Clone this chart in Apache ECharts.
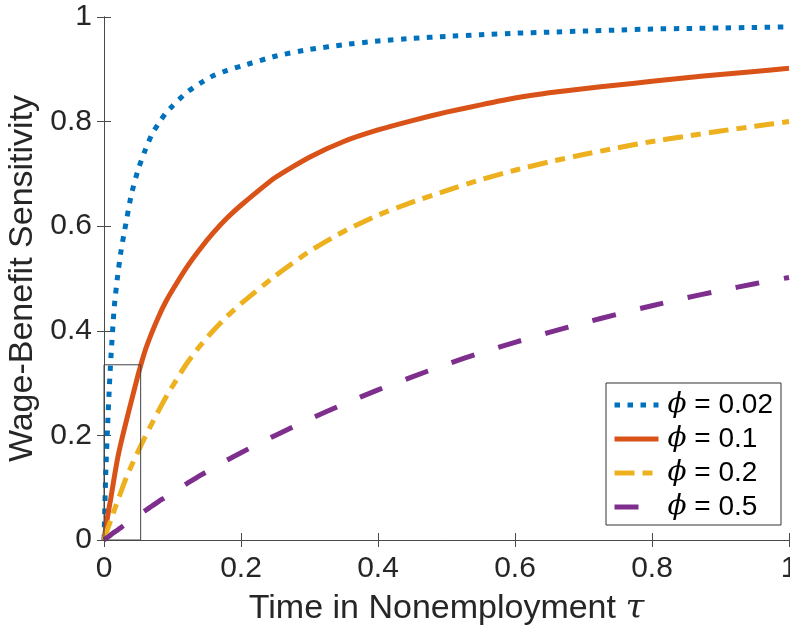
<!DOCTYPE html>
<html>
<head>
<meta charset="utf-8">
<script src="https://cdn.jsdelivr.net/npm/echarts@6/dist/echarts.min.js"></script>
<style>
html,body{margin:0;padding:0;background:#fff;}
#c{width:790px;height:631px;}
</style>
</head>
<body>
<div id="c"></div>
<script>
// Time in nonemployment (x values)
const tau = [0, 0.0025, 0.005, 0.0075, 0.01, 0.015, 0.02, 0.025, 0.03, 0.04, 0.05, 0.06, 0.07, 0.08, 0.09, 0.1, 0.12, 0.14, 0.16, 0.18, 0.2, 0.25, 0.3, 0.35, 0.4, 0.45, 0.5, 0.55, 0.6, 0.65, 0.7, 0.75, 0.8, 0.85, 0.9, 0.95, 1.0];
// Wage-benefit sensitivity for each phi
const phi002 = [0, 0.125, 0.21, 0.284, 0.347, 0.446, 0.506, 0.554, 0.591, 0.661, 0.709, 0.745, 0.776, 0.797, 0.816, 0.83, 0.855, 0.873, 0.888, 0.898, 0.906, 0.925, 0.938, 0.947, 0.954, 0.959, 0.963, 0.966, 0.969, 0.971, 0.973, 0.975, 0.977, 0.978, 0.979, 0.980, 0.981];
const phi01  = [0, 0.022, 0.043, 0.062, 0.08, 0.12, 0.157, 0.187, 0.214, 0.266, 0.317, 0.362, 0.397, 0.428, 0.455, 0.478, 0.52, 0.556, 0.588, 0.616, 0.64, 0.693, 0.732, 0.762, 0.784, 0.802, 0.818, 0.832, 0.845, 0.855, 0.863, 0.87, 0.877, 0.884, 0.89, 0.896, 0.902];
const phi02  = [0, 0.01, 0.02, 0.029, 0.038, 0.057, 0.075, 0.093, 0.111, 0.142, 0.17, 0.197, 0.223, 0.248, 0.272, 0.294, 0.336, 0.371, 0.401, 0.428, 0.452, 0.505, 0.552, 0.59, 0.621, 0.646, 0.668, 0.689, 0.707, 0.723, 0.737, 0.75, 0.762, 0.772, 0.782, 0.791, 0.8];
const phi05  = [0, 0.0025, 0.005, 0.007, 0.01, 0.015, 0.019, 0.024, 0.029, 0.038, 0.047, 0.056, 0.065, 0.074, 0.082, 0.091, 0.107, 0.123, 0.138, 0.153, 0.167, 0.2, 0.231, 0.26, 0.287, 0.312, 0.336, 0.358, 0.378, 0.397, 0.415, 0.432, 0.448, 0.463, 0.477, 0.49, 0.502];
const seriesNames = ['ϕ = 0.02', 'ϕ = 0.1', 'ϕ = 0.2', 'ϕ = 0.5'];
// zoom box outline corners (tau, sensitivity)
const boxTau = [0, 0.0535, 0.0535, 0, 0];
const boxVal = [0, 0, 0.335, 0.335, 0];

const pair = (xs, ys) => xs.map((x, i) => [x, ys[i]]);
const FONT = "'Liberation Sans', Arial, Helvetica, sans-serif";
const AX = '#4a4a4a';
const TXT = '#262626';
const fmt = v => (v === 0 || v === 1) ? String(v) : String(+v.toFixed(1));

const chart = echarts.init(document.getElementById('c'));
const baseAxis = {type: 'value', min: 0, max: 1, interval: 0.2,
  axisLine: {show: true, lineStyle: {color: AX, width: 1}},
  axisTick: {show: true, inside: true, length: 7, lineStyle: {color: AX}},
  splitLine: {show: false}};
const lineSeries = (name, ys, color, type) => ({
  name, type: 'line', data: pair(tau, ys), symbol: 'none', showSymbol: false,
  smooth: 0.2,
  lineStyle: {color, width: 5, type, cap: 'butt', join: 'round'}, itemStyle: {color}
});
chart.setOption({
  animation: false,
  textStyle: {fontFamily: FONT},
  grid: {left: 104, right: 1, top: 17, bottom: 91, containLabel: false, outerBoundsMode: 'none'},
  xAxis: [
    Object.assign({}, baseAxis, {position: 'bottom',
      axisLabel: {fontSize: 30, color: TXT, margin: 14, fontFamily: FONT, formatter: fmt},
      name: 'Time in Nonemployment {t|τ}', nameLocation: 'middle', nameGap: 52,
      nameTextStyle: {fontSize: 34, color: TXT, fontFamily: FONT,
        rich: {t: {fontSize: 34, fontStyle: 'italic', fontFamily: "'DejaVu Serif', serif", color: TXT}}}}),
    Object.assign({}, baseAxis, {position: 'top', axisLabel: {show: false}})
  ],
  yAxis: [
    Object.assign({}, baseAxis, {position: 'left',
      axisLabel: {fontSize: 30, color: TXT, margin: 12, fontFamily: FONT, formatter: fmt},
      name: 'Wage-Benefit Sensitivity', nameLocation: 'middle', nameGap: 60, nameRotate: 90,
      nameTextStyle: {fontSize: 34, color: TXT, fontFamily: FONT}}),
    Object.assign({}, baseAxis, {position: 'right', axisLabel: {show: false}})
  ],
  legend: {
    orient: 'vertical', left: 606, top: 383,
    data: seriesNames,
    backgroundColor: '#fff', borderColor: '#333', borderWidth: 1,
    padding: [8, 8, 4, 6], itemGap: 6, itemWidth: 44, itemHeight: 14,
    itemStyle: {opacity: 0},
    lineStyle: {width: 5},
    formatter: n => n.replace('ϕ', '{p|ϕ}'),
    textStyle: {fontSize: 28, color: '#000', fontFamily: FONT, padding: [0, 0, 0, 4],
      rich: {p: {fontSize: 28, fontStyle: 'italic', fontFamily: "'DejaVu Serif', serif", color: '#000'}}}
  },
  series: [
    lineSeries(seriesNames[0], phi002, '#0072BD', [5.5, 7.5]),
    lineSeries(seriesNames[1], phi01, '#D95319', 'solid'),
    lineSeries(seriesNames[2], phi02, '#EDB120', [20, 8, 10, 8]),
    lineSeries(seriesNames[3], phi05, '#7E2F8E', [24, 25]),
    {name: 'box', type: 'line', data: pair(boxTau, boxVal), symbol: 'none', silent: true,
      lineStyle: {color: '#444', width: 1}}
  ]
});
</script>
</body>
</html>
